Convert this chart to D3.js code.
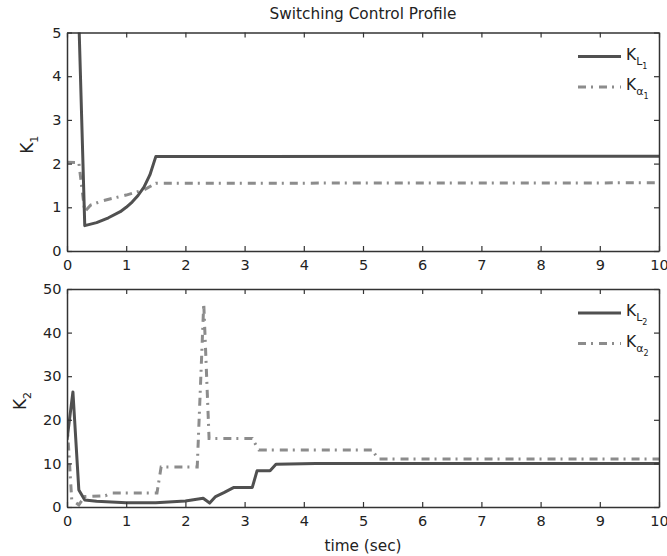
<!DOCTYPE html>
<html>
<head>
<meta charset="utf-8">
<script src="https://cdn.jsdelivr.net/npm/d3@7"></script>
<style>
	body { margin: 0; background: #fff; }
	svg { font-family: "DejaVu Sans", sans-serif; }
</style>
</head>
<body>
<div id="chart"></div>
<script>
(function() {
	"use strict";

	// [time, gain] pairs
	var kL1 = [[0, 5.3], [0.2, 5.3], [0.3, 0.58], [0.5, 0.65], [0.7, 0.76], [0.9, 0.9], [1.0, 1.0],
		[1.1, 1.12], [1.2, 1.27], [1.3, 1.46], [1.4, 1.74], [1.5, 2.16], [10, 2.17]];
	var kA1 = [[0, 2.03], [0.2, 2.02], [0.3, 0.9], [0.4, 1.05], [0.6, 1.15], [1.0, 1.28],
		[1.3, 1.4], [1.5, 1.55], [10, 1.56]];
	var kL2 = [[0, 15.4], [0.1, 26.4], [0.2, 3.9], [0.3, 1.6], [0.5, 1.3], [1.0, 1.0], [1.5, 1.0],
		[2.0, 1.4], [2.3, 2.0], [2.41, 0.9], [2.51, 2.4], [2.65, 3.3], [2.82, 4.5], [3.13, 4.5],
		[3.21, 8.3], [3.43, 8.3], [3.53, 9.8], [4.2, 10.0], [10, 10.0]];
	var kA2 = [[0, 19.6], [0.08, 1.6], [0.2, 0.5], [0.3, 2.4], [0.65, 2.6], [0.74, 3.2], [1.52, 3.2],
		[1.59, 9.2], [2.2, 9.2], [2.31, 46.7], [2.4, 15.7], [3.13, 15.7], [3.24, 13.1],
		[5.16, 13.1], [5.25, 11.0], [10, 11.0]];

	var xTicks = [0, 1, 2, 3, 4, 5, 6, 7, 8, 9, 10];
	var yTicks1 = [0, 1, 2, 3, 4, 5];
	var yTicks2 = [0, 10, 20, 30, 40, 50];

	var width = 667, height = 556;
	var left = 67, right = 659;
	var solidColor = '#505050', dashColor = '#8c8c8c', axisColor = '#333', textColor = '#222';
	var dashPattern = '8,5,2,6';

	var svg = d3.select('#chart')
		.append('svg')
		.attr('width', width)
		.attr('height', height);

	var x = d3.scaleLinear().domain([0, 10]).range([left, right]);

	svg.append('text')
		.attr('x', (left + right) / 2)
		.attr('y', 19)
		.attr('text-anchor', 'middle')
		.attr('font-size', 15.3)
		.attr('fill', textColor)
		.text('Switching Control Profile');

	svg.append('text')
		.attr('x', (left + right) / 2)
		.attr('y', 551)
		.attr('text-anchor', 'middle')
		.attr('font-size', 15.3)
		.attr('fill', textColor)
		.text('time (sec)');

	renderPanel({
		top: 32.5, bottom: 251, yMax: 5, yTicks: yTicks1,
		solid: kL1, dash: kA1, index: '1', yLabelX: 33, id: 'p1'
	});
	renderPanel({
		top: 289, bottom: 507, yMax: 50, yTicks: yTicks2,
		solid: kL2, dash: kA2, index: '2', yLabelX: 26, id: 'p2'
	});

	function renderPanel(p) {
		var y = d3.scaleLinear().domain([0, p.yMax]).range([p.bottom, p.top]);
		var g = svg.append('g');

		g.append('clipPath')
			.attr('id', p.id)
			.append('rect')
			.attr('x', left).attr('y', p.top)
			.attr('width', right - left).attr('height', p.bottom - p.top);

		var line = d3.line()
			.x(function (d) { return x(d[0]); })
			.y(function (d) { return y(d[1]); });

		g.append('path')
			.datum(p.dash)
			.attr('clip-path', 'url(#' + p.id + ')')
			.attr('d', line)
			.attr('fill', 'none')
			.attr('stroke', dashColor)
			.attr('stroke-width', 3)
			.attr('stroke-dasharray', dashPattern);

		g.append('path')
			.datum(p.solid)
			.attr('clip-path', 'url(#' + p.id + ')')
			.attr('d', line)
			.attr('fill', 'none')
			.attr('stroke', solidColor)
			.attr('stroke-width', 3)
			.attr('stroke-linejoin', 'round');

		// inward ticks on all four sides, MATLAB style
		var tick = 5, fmt = d3.format('d');
		g.append('g')
			.attr('transform', 'translate(0,' + p.bottom + ')')
			.call(d3.axisBottom(x).tickValues(xTicks).tickFormat(fmt).tickSizeInner(-tick).tickSizeOuter(0).tickPadding(9));
		g.append('g')
			.attr('transform', 'translate(0,' + p.top + ')')
			.call(d3.axisTop(x).tickValues(xTicks).tickSizeInner(-tick).tickSizeOuter(0).tickFormat(''));
		g.append('g')
			.attr('transform', 'translate(' + left + ',0)')
			.call(d3.axisLeft(y).tickValues(p.yTicks).tickFormat(fmt).tickSizeInner(-tick).tickSizeOuter(0).tickPadding(5.5));
		g.append('g')
			.attr('transform', 'translate(' + right + ',0)')
			.call(d3.axisRight(y).tickValues(p.yTicks).tickSizeInner(-tick).tickSizeOuter(0).tickFormat(''));

		g.selectAll('.domain').attr('stroke', axisColor).attr('stroke-width', 1.5);
		g.selectAll('.tick line').attr('stroke', axisColor).attr('stroke-width', 1.2);
		g.selectAll('g')
			.attr('font-family', '"DejaVu Sans", sans-serif')
			.attr('font-size', 14.5);
		g.selectAll('.tick text').attr('fill', textColor);

		// y label
		var yl = g.append('text')
			.attr('transform', 'translate(' + p.yLabelX + ',' + ((p.top + p.bottom) / 2 + 3) + ') rotate(-90)')
			.attr('text-anchor', 'middle')
			.attr('font-size', 17)
			.attr('fill', textColor);
		yl.append('tspan').text('K');
		yl.append('tspan').attr('font-size', 11).attr('dy', 5).text(p.index);

		// legend
		var lx1 = right - 81, lx2 = right - 38, tx = right - 33;
		var rows = [
			{ sub: 'L', color: solidColor, dash: null, yOff: 24 },
			{ sub: '\u03b1', color: dashColor, dash: dashPattern, yOff: 54.5 }
		];
		rows.forEach(function (r) {
			var ly = p.top + r.yOff;
			g.append('line')
				.attr('x1', lx1).attr('x2', lx2)
				.attr('y1', ly).attr('y2', ly)
				.attr('stroke', r.color)
				.attr('stroke-width', 3)
				.attr('stroke-dasharray', r.dash);
			var t = g.append('text')
				.attr('x', tx)
				.attr('y', ly + 3)
				.attr('font-size', 15.5)
				.attr('fill', textColor);
			t.append('tspan').text('K');
			t.append('tspan').attr('font-size', 11).attr('dy', 5).text(r.sub);
			t.append('tspan').attr('font-size', 8).attr('dy', 4).text(p.index);
		});
	}
}());
</script>
</body>
</html>
